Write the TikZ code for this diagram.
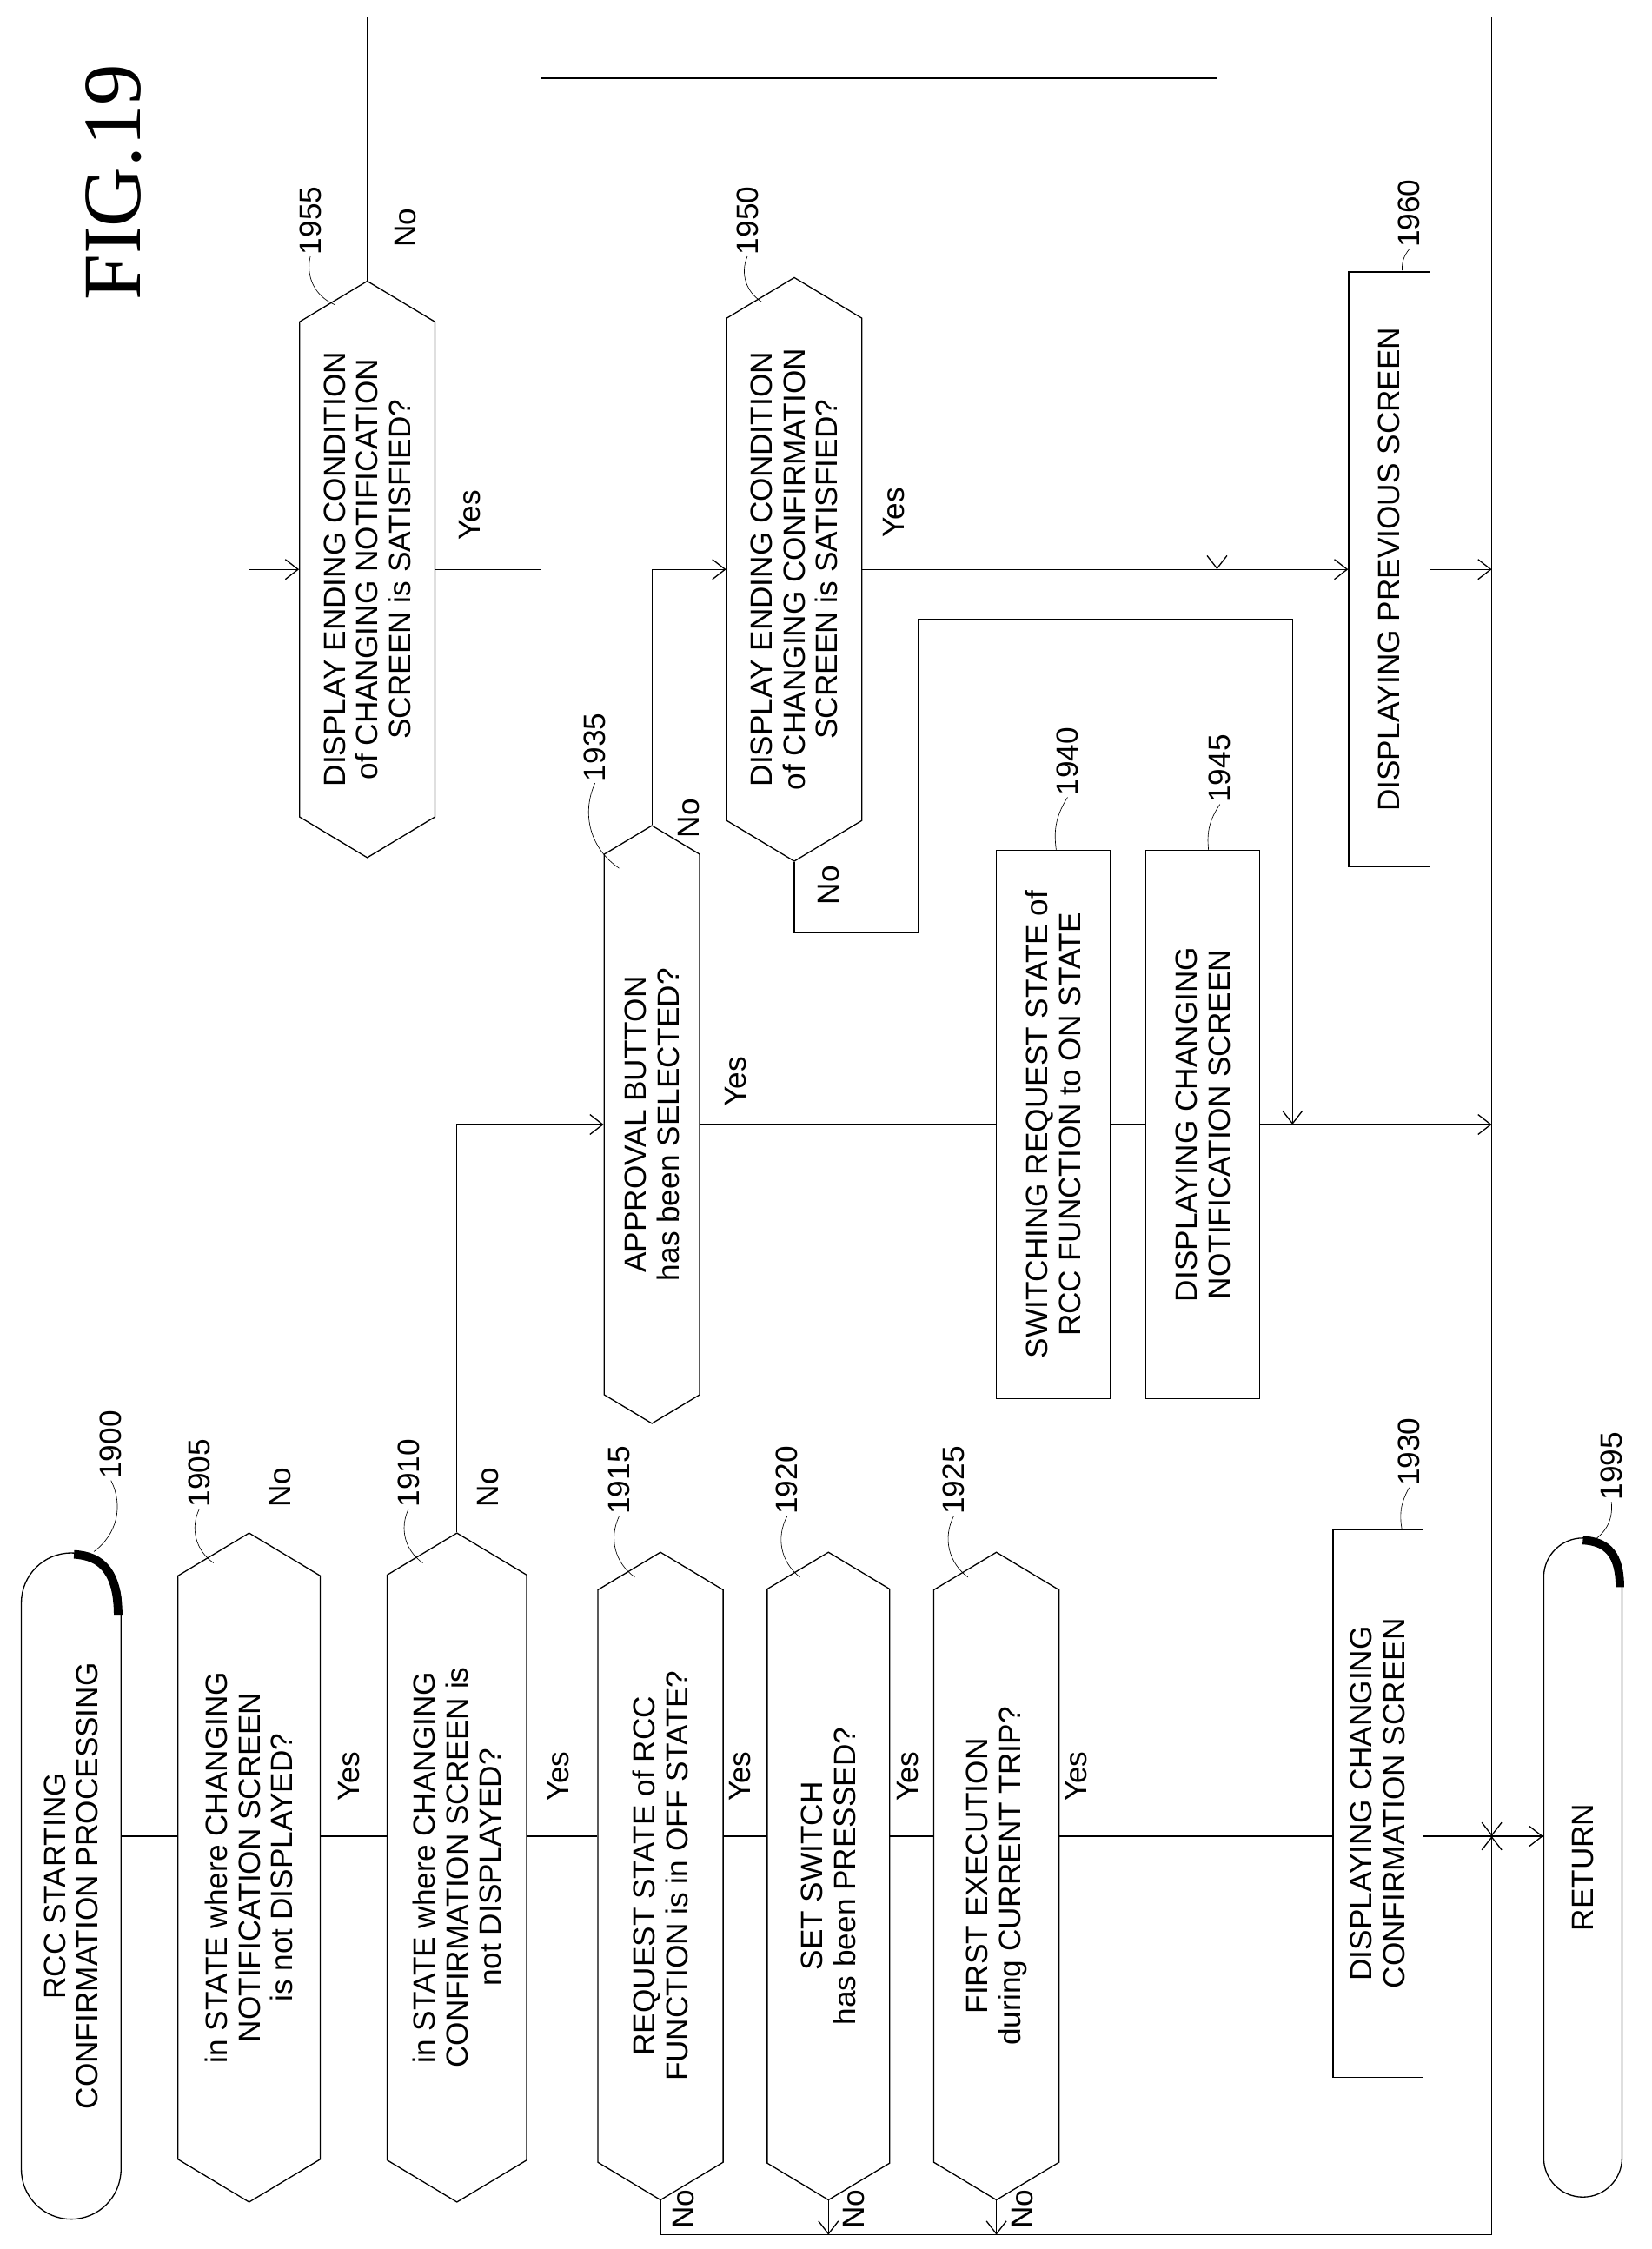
\documentclass[tikz,border=0pt]{standalone}
\usepackage{fontspec}
\setmainfont{Liberation Sans}
\newfontfamily\figfont{Liberation Serif}
\usetikzlibrary{positioning, shapes.symbols, shapes.misc}
\usetikzlibrary{arrows.meta}

\tikzset{
  dec/.style={draw, thick, signal, signal to=east and west, signal pointer angle=118,
    rotate=90, align=center, inner sep=1pt},
  proc/.style={draw, thick, rectangle, rotate=90, align=center, inner sep=1pt},
  term/.style={draw, thick, rounded rectangle, rotate=90, align=center, inner sep=1pt},
  lbl/.style={rotate=90, inner sep=1pt},
  flow/.style={thick},
  arr/.style={thick, -{Straight Barb[length=9pt,width=14pt]}},
}

\begin{document}
\begin{tikzpicture}[x=1pt, y=-1pt, font=\fontsize{21.5}{23}\selectfont]
\useasboundingbox (0,0) rectangle (1160,1580);

\node[lbl, font=\figfont\fontsize{58}{60}\selectfont] (fig) at (80,128) {FIG.19};

% shapes
\node[term, minimum width=470, minimum height=70] (st) at (50,1325) {RCC STARTING\\CONFIRMATION PROCESSING};
\node[dec, minimum width=470, minimum height=100] (d05) at (175,1312) {in STATE where CHANGING\\NOTIFICATION SCREEN\\is not DISPLAYED?};
\node[dec, minimum width=470, minimum height=98] (d10) at (321,1312) {in STATE where CHANGING\\CONFIRMATION SCREEN is\\not DISPLAYED?};
\node[dec, minimum width=455, minimum height=88] (d15) at (464,1318) {REQUEST STATE of RCC\\FUNCTION is in OFF STATE?};
\node[dec, minimum width=455, minimum height=86] (d20) at (582,1318) {SET SWITCH\\has been PRESSED?};
\node[dec, minimum width=455, minimum height=88] (d25) at (700,1318) {FIRST EXECUTION\\during CURRENT TRIP?};
\node[proc, minimum width=385, minimum height=63] (b30) at (968,1267) {DISPLAYING CHANGING\\CONFIRMATION SCREEN};
\node[term, minimum width=465, minimum height=55] (rt) at (1112,1312) {RETURN};
\node[dec, minimum width=420, minimum height=67] (d35) at (458,790) {APPROVAL BUTTON\\has been SELECTED?};
\node[proc, minimum width=385, minimum height=80] (b40) at (740,790) {SWITCHING REQUEST STATE of\\RCC FUNCTION to ON STATE};
\node[proc, minimum width=385, minimum height=80] (b45) at (845,790) {DISPLAYING CHANGING\\NOTIFICATION SCREEN};
\node[dec, minimum width=410, minimum height=95] (d50) at (558,400) {DISPLAY ENDING CONDITION\\of CHANGING CONFIRMATION\\SCREEN is SATISFIED?};
\node[dec, minimum width=405, minimum height=95] (d55) at (258,400) {DISPLAY ENDING CONDITION\\of CHANGING NOTIFICATION\\SCREEN is SATISFIED?};
\node[proc, minimum width=418, minimum height=57] (b60) at (976,400) {DISPLAYING PREVIOUS SCREEN};

% terminal shadows
\draw[line width=6pt] (83,1135) .. controls (83,1105) and (72,1093) .. (52,1092);
\draw[line width=6pt] (1138,1115) .. controls (1138,1093) and (1130,1083) .. (1112,1082);

% helper points
\coordinate (m) at (0,1290);
\coordinate (bl) at (0,1570);
\coordinate (t1) at (1048,12);
\coordinate (j) at (1048,1290);
\coordinate (jb) at (1048,1570);
\coordinate (c1) at (380,55);
\coordinate (c2) at (855,400);
\coordinate (c3) at (645,655);
\coordinate (c4) at (908,435);
\coordinate (c5) at (908,790);

% main line
\draw[flow] (st.south |- m) -- (d05.north |- m);
\draw[flow] (d05.south |- m) -- (d10.north |- m);
\draw[flow] (d10.south |- m) -- (d15.north |- m);
\draw[flow] (d15.south |- m) -- (d20.north |- m);
\draw[flow] (d20.south |- m) -- (d25.north |- m);
\draw[flow] (d25.south |- m) -- (b30.north |- m);
\draw[flow] (b30.south |- m) -- (j);
\draw[arr] (j) -- (rt.north |- m);

% no branches below
\draw[flow] (d15.west) -- (d15.west |- bl) -- (jb);
\draw[arr] (jb) -- (j);
\draw[arr] (d20.west) -- (d20.west |- bl);
\draw[arr] (d25.west) -- (d25.west |- bl);

% upper part
\draw[arr] (d05.east) |- (d55.north);
\draw[arr] (d10.east) |- (d35.north);
\draw[flow] (d35.south) -- (b40.north);
\draw[flow] (b40.south) -- (b45.north);
\draw[arr] (b45.south) -- (b45.south -| j);
\draw[arr] (d35.east) |- (d50.north);
\draw[arr] (d50.south) -- (b60.north);
\draw[arr] (b60.south) -- (b60.south -| j);
\draw[flow] (d55.east) |- (t1);
\draw[arr] (t1) -- (j);
\draw[arr] (d55.south) -| (c1) -| (c2);
\draw[arr] (d50.west) |- (c3) |- (c4) -- (c5);

% yes / no
\node[lbl] (y05) at (245,1248) {Yes};
\node[lbl] (n05) at (197,1045) {No};
\node[lbl] (y10) at (392,1248) {Yes};
\node[lbl] (n10) at (343,1045) {No};
\node[lbl] (y15) at (520,1248) {Yes};
\node[lbl] (n15) at (480,1552) {No};
\node[lbl] (y20) at (638,1248) {Yes};
\node[lbl] (n20) at (600,1552) {No};
\node[lbl] (y25) at (756,1248) {Yes};
\node[lbl] (n25) at (718,1552) {No};
\node[lbl] (y35) at (517,760) {Yes};
\node[lbl] (n35) at (484,575) {No};
\node[lbl] (y50) at (628,360) {Yes};
\node[lbl] (n50) at (582,622) {No};
\node[lbl] (y55) at (330,362) {Yes};
\node[lbl] (n55) at (285,160) {No};

% reference numbers
\node[lbl] (r00) at (78,1015) {1900};
\node[lbl] (r05) at (140,1035) {1905};
\node[lbl] (r10) at (287,1035) {1910};
\node[lbl] (r15) at (435,1040) {1915};
\node[lbl] (r20) at (553,1040) {1920};
\node[lbl] (r25) at (670,1040) {1925};
\node[lbl] (r30) at (990,1020) {1930};
\node[lbl] (r95) at (1132,1030) {1995};
\node[lbl] (r35) at (418,525) {1935};
\node[lbl] (r40) at (750,535) {1940};
\node[lbl] (r45) at (857,540) {1945};
\node[lbl] (r50) at (525,155) {1950};
\node[lbl] (r55) at (218,155) {1955};
\node[lbl] (r60) at (990,150) {1960};
\draw (r00.west) to[bend left=40] (66,1090);
\draw (r05.west) to[bend right=40] (150,1098);
\draw (r10.west) to[bend right=40] (297,1098);
\draw (r15.west) to[bend right=40] (446,1108);
\draw (r20.west) to[bend right=40] (562,1108);
\draw (r25.west) to[bend right=40] (680,1108);
\draw (r30.west) to[bend right=20] (985,1075);
\draw (r95.west) to[bend left=30] (1120,1082);
\draw (r35.west) to[bend right=40] (435,610);
\draw (r40.west) to[bend right=20] (742,597);
\draw (r45.west) to[bend right=20] (849,597);
\draw (r50.west) to[bend right=40] (535,212);
\draw (r55.west) to[bend right=40] (235,214);
\draw (r60.west) to[bend right=20] (985,190);
\end{tikzpicture}
\end{document}
